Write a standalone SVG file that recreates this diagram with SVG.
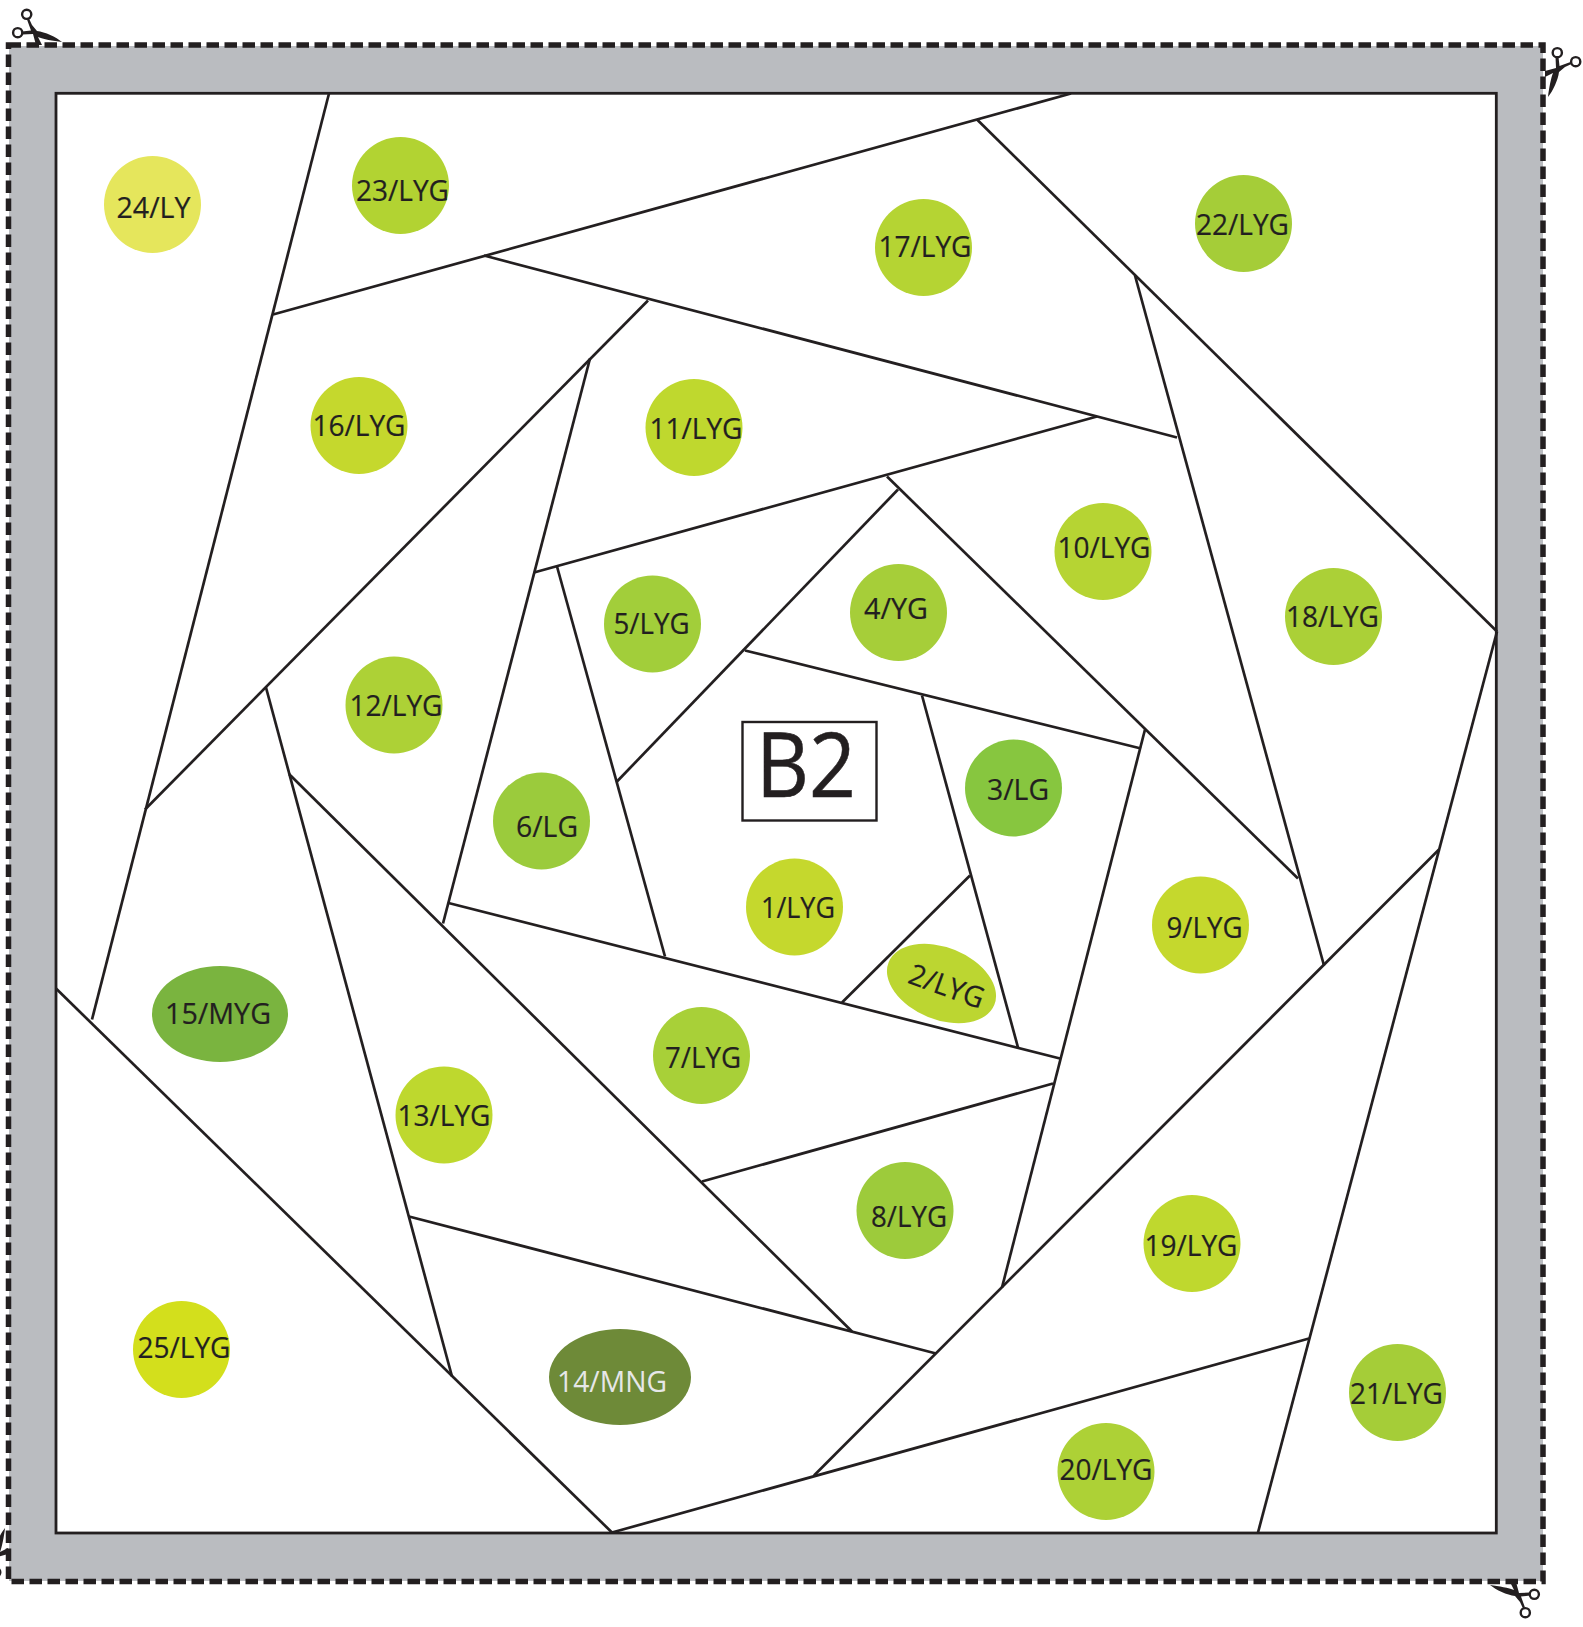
<svg xmlns="http://www.w3.org/2000/svg" xmlns:xlink="http://www.w3.org/1999/xlink" width="1583" height="1627" viewBox="0 0 1583 1627">
<style>
.t{font-family:"Open Sans","Noto Sans","Liberation Sans",sans-serif;font-size:29px;fill:#231f20;text-anchor:middle;stroke:#231f20;stroke-width:.2}
.l{stroke:#231f20;stroke-width:2.7;fill:none;stroke-linecap:butt}
</style>
<defs>
<g id="sc">
<circle cx="26.700" cy="14.300" r="4.600" fill="#fff" stroke="#231f20" stroke-width="2.400"/>
<circle cx="17.700" cy="32.700" r="4.600" fill="#fff" stroke="#231f20" stroke-width="2.400"/>
<path d="M29 18.500L32 25L37 31C45 32 56 37 62 42C53 41 43 39 38 37L42 45L36 45L33 34L22 34.500L22 31.500L31 30.500L27 19.500Z" fill="#231f20"/>
</g>
</defs>
<rect width="1583" height="1627" fill="#fff"/>
<g id="frame">
<path fill="#babcc0" fill-rule="evenodd" d="M9 46H1543V1581H9ZM56 93V1533H1496V93Z"/>
<rect x="8.500" y="45" width="1534.500" height="1536.500" fill="none" stroke="#231f20" stroke-width="5.500" stroke-dasharray="12.500 5.500"/>
<rect x="56" y="93.300" width="1440.300" height="1439.700" fill="#fff" stroke="#231f20" stroke-width="2.800"/>
</g>
<g id="scissors">
<use xlink:href="#sc" href="#sc"/>
<use xlink:href="#sc" href="#sc" transform="matrix(0 1 -1 0 1590 35)"/>
<use xlink:href="#sc" href="#sc" transform="matrix(-1 0 0 -1 1552 1627)"/>
<use xlink:href="#sc" href="#sc" transform="matrix(0 -1 1 0 -37 1590)"/>
</g>
<g id="connectors" class="l" transform="translate(0 .5)">
<path d="M329 93L92 1019"/>
<path d="M1071 93L273 314"/>
<path d="M977 119L1497 631"/>
<path d="M1497 631L1258 1532"/>
<path d="M1309 1338L612 1532"/>
<path d="M56 988L612 1532"/>
<path d="M484 255L1177 437"/>
<path d="M1135 275L1324 965"/>
<path d="M1439 849L814 1475"/>
<path d="M409 1216L936 1353"/>
<path d="M266 687L452 1376"/>
<path d="M648 300L145 809"/>
<path d="M590 358L443 923"/>
<path d="M1097 416L534 572"/>
<path d="M887 476L1298 878"/>
<path d="M1145 729L1002 1287"/>
<path d="M289 773.500L852 1331"/>
<path d="M702 1181L1053 1083"/>
<path d="M448.500 902.500L1060 1058"/>
<path d="M557 566L665 956"/>
<path d="M898 489L617 781"/>
<path d="M745 650L1141 748"/>
<path d="M922 695L1018 1047"/>
<path d="M970 875L842 1002"/>
</g>
<g id="label-b2"><rect x="742.500" y="722" width="134" height="98.500" fill="#fff" stroke="#231f20" stroke-width="2.400"/><text x="806" y="797" style="font-family:'Open Sans','Noto Sans',sans-serif;font-size:90px;fill:#231f20;stroke:#231f20;stroke-width:.6;text-anchor:middle" textLength="100" lengthAdjust="spacingAndGlyphs">B2</text></g>
<g id="nodes" transform="translate(0 .5)">
<g id="n24"><circle cx="152.500" cy="204" r="48.500" fill="#e5e65c"/><text class="t" x="153.500" y="217" textLength="74" lengthAdjust="spacingAndGlyphs">24/LY</text></g>
<g id="n23"><circle cx="400.500" cy="185" r="48.500" fill="#b2d332"/><text class="t" x="402.500" y="200" textLength="93" lengthAdjust="spacingAndGlyphs">23/LYG</text></g>
<g id="n17"><circle cx="923.500" cy="247" r="48.500" fill="#b5d433"/><text class="t" x="925" y="256" textLength="93" lengthAdjust="spacingAndGlyphs">17/LYG</text></g>
<g id="n22"><circle cx="1243.500" cy="223" r="48.500" fill="#a5cd38"/><text class="t" x="1242.500" y="234" textLength="93" lengthAdjust="spacingAndGlyphs">22/LYG</text></g>
<g id="n16"><circle cx="359" cy="425" r="48.500" fill="#c5d82d"/><text class="t" x="359" y="435" textLength="93" lengthAdjust="spacingAndGlyphs">16/LYG</text></g>
<g id="n11"><circle cx="694" cy="427" r="48.500" fill="#bfd82e"/><text class="t" x="696" y="438" textLength="93" lengthAdjust="spacingAndGlyphs">11/LYG</text></g>
<g id="n10"><circle cx="1103" cy="551" r="48.500" fill="#b6d433"/><text class="t" x="1104" y="557.500" textLength="93" lengthAdjust="spacingAndGlyphs">10/LYG</text></g>
<g id="n18"><circle cx="1333.500" cy="616" r="48.500" fill="#abd037"/><text class="t" x="1332.500" y="626" textLength="93" lengthAdjust="spacingAndGlyphs">18/LYG</text></g>
<g id="n5"><circle cx="652.500" cy="623.500" r="48.500" fill="#a2ce3a"/><text class="t" x="651.500" y="633" textLength="76" lengthAdjust="spacingAndGlyphs">5/LYG</text></g>
<g id="n4"><circle cx="898.500" cy="612" r="48.500" fill="#a6ce39"/><text class="t" x="896" y="618" textLength="64" lengthAdjust="spacingAndGlyphs">4/YG</text></g>
<g id="n12"><circle cx="394" cy="704.500" r="48.500" fill="#add136"/><text class="t" x="396" y="715" textLength="93" lengthAdjust="spacingAndGlyphs">12/LYG</text></g>
<g id="n3"><circle cx="1013.500" cy="787.500" r="48.500" fill="#87c63f"/><text class="t" x="1018" y="799" textLength="62" lengthAdjust="spacingAndGlyphs">3/LG</text></g>
<g id="n6"><circle cx="541.500" cy="820.500" r="48.500" fill="#9bcb3c"/><text class="t" x="547" y="836" textLength="62" lengthAdjust="spacingAndGlyphs">6/LG</text></g>
<g id="n1"><circle cx="794.500" cy="906.500" r="48.500" fill="#c5d82d"/><text class="t" x="798" y="917" textLength="74" lengthAdjust="spacingAndGlyphs">1/LYG</text></g>
<g id="n9"><circle cx="1200.500" cy="924.500" r="48.500" fill="#c5d82d"/><text class="t" x="1204.500" y="937" textLength="76" lengthAdjust="spacingAndGlyphs">9/LYG</text></g>
<g id="n2"><ellipse cx="941.500" cy="983" rx="57" ry="36" transform="rotate(22 941.500 983)" fill="#bcd631"/><text class="t" transform="translate(947 985) rotate(20)" x="0" y="11" textLength="78" lengthAdjust="spacingAndGlyphs">2/LYG</text></g>
<g id="n15"><ellipse cx="220" cy="1013.500" rx="68" ry="48" fill="#7ab43f"/><text class="t" x="218" y="1023" textLength="106" lengthAdjust="spacingAndGlyphs">15/MYG</text></g>
<g id="n7"><circle cx="701.500" cy="1055" r="48.500" fill="#a8d038"/><text class="t" x="703" y="1067" textLength="76" lengthAdjust="spacingAndGlyphs">7/LYG</text></g>
<g id="n13"><circle cx="444" cy="1114.500" r="48.500" fill="#bed82e"/><text class="t" x="444" y="1125" textLength="93" lengthAdjust="spacingAndGlyphs">13/LYG</text></g>
<g id="n8"><circle cx="905" cy="1210" r="48.500" fill="#9dcb3b"/><text class="t" x="909" y="1226" textLength="76" lengthAdjust="spacingAndGlyphs">8/LYG</text></g>
<g id="n19"><circle cx="1192" cy="1243" r="48.500" fill="#bfd82e"/><text class="t" x="1191" y="1255" textLength="93" lengthAdjust="spacingAndGlyphs">19/LYG</text></g>
<g id="n25"><circle cx="181.500" cy="1349" r="48.500" fill="#d3df1c"/><text class="t" x="184" y="1357" textLength="93" lengthAdjust="spacingAndGlyphs">25/LYG</text></g>
<g id="n14"><ellipse cx="620" cy="1376.500" rx="71" ry="48" fill="#6e8a38"/><text class="t" style="fill:#e6e7e8;stroke:none" x="612" y="1391" textLength="110" lengthAdjust="spacingAndGlyphs">14/MNG</text></g>
<g id="n21"><circle cx="1397.500" cy="1392" r="48.500" fill="#a5cd38"/><text class="t" x="1396.500" y="1403" textLength="93" lengthAdjust="spacingAndGlyphs">21/LYG</text></g>
<g id="n20"><circle cx="1106" cy="1471" r="48.500" fill="#add136"/><text class="t" x="1106" y="1479" textLength="93" lengthAdjust="spacingAndGlyphs">20/LYG</text></g>
</g>
</svg>
